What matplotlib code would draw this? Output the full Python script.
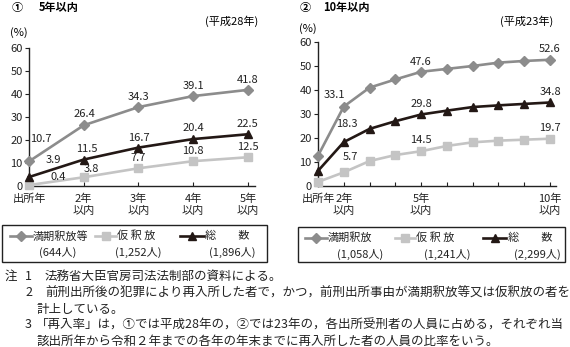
import matplotlib
matplotlib.use("Agg")
import matplotlib.pyplot as plt
from matplotlib.lines import Line2D
from matplotlib.patches import Rectangle

plt.rcParams['font.family'] = ['Noto Sans CJK JP', 'DejaVu Sans']

W, H = 570, 347

# ① 5年以内 (平成28年)
cats5 = ["出所年", "2年\n以内", "3年\n以内", "4年\n以内", "5年\n以内"]
manki5 = [10.7, 26.4, 34.3, 39.1, 41.8]
kari5 = [0.4, 3.8, 7.7, 10.8, 12.5]
total5 = [3.9, 11.5, 16.7, 20.4, 22.5]
names5 = ["満期釈放等", "仮 釈 放", "総　　数"]
counts5 = ["(644人)", "(1,252人)", "(1,896人)"]

# ② 10年以内 (平成23年)
cats10 = ["出所年", "2年\n以内", "", "", "5年\n以内", "", "", "", "", "10年\n以内"]
manki10 = [12.6, 33.1, 41.0, 44.4, 47.6, 48.8, 50.0, 51.4, 52.1, 52.6]
kari10 = [1.7, 5.7, 10.4, 12.9, 14.5, 16.7, 18.2, 18.9, 19.3, 19.7]
total10 = [6.3, 18.3, 23.8, 27.0, 29.8, 31.4, 32.9, 33.6, 34.2, 34.8]
labeled10 = [1, 4, 9]
names10 = ["満期釈放", "仮 釈 放", "総　　数"]
counts10 = ["(1,058人)", "(1,241人)", "(2,299人)"]

notes = [
    (5, 276, "注"),
    (25, 276, "1"),
    (45, 276, "法務省大臣官房司法法制部の資料による。"),
    (25, 293, "2"),
    (45, 293, "前刑出所後の犯罪により再入所した者で，かつ，前刑出所事由が満期釈放等又は仮釈放の者を"),
    (37, 309, "計上している。"),
    (25, 325, "3"),
    (36, 325, "「再入率」は，①では平成28年の，②では23年の，各出所受刑者の人員に占める，それぞれ当"),
    (37, 341, "該出所年から令和２年までの各年の年末までに再入所した者の人員の比率をいう。"),
]

colors = ["#8c8c8c", "#c4c4c4", "#231815"]
markers = ["D", "s", "^"]
msizes = [5, 5.5, 6]
FS = 8

# label offsets in pixels (dx, dy downwards)
offs5 = [
    [(12, -22), (1, -11), (0, -10), (0, -10), (0, -10)],
    [(29, -8), (8, -8), (0, -10), (0, -10), (0, -10)],
    [(24, -17), (3, -11), (0, -10), (0, -11), (0, -10)],
]
offs10 = [
    {1: (-9, -12), 4: (0, -10), 9: (0, -11)},
    {1: (7, -15), 4: (0, -11), 9: (0, -11)},
    {1: (3, -18), 4: (0, -10), 9: (0, -10)},
]


def fx(x):
    return x / W


def fy(y):
    return 1 - y / H


fig = plt.figure(figsize=(W / 100, H / 100), dpi=100)
fig.patch.set_facecolor("white")


def setup_axes(ax, cats, xmax):
    ax.set_xlim(0, xmax)
    ax.set_ylim(0, 60)
    for s in ["top", "right"]:
        ax.spines[s].set_visible(False)
    for s in ["left", "bottom"]:
        ax.spines[s].set_linewidth(1.0)
        ax.spines[s].set_color("#222222")
    ax.set_yticks(range(0, 61, 10))
    ax.set_xticks(range(len(cats)))
    ax.set_xticklabels(cats, fontsize=FS, linespacing=1.3)
    ax.tick_params(axis="y", direction="out", length=3, pad=1.5, labelsize=FS, colors="#222222")
    ax.tick_params(axis="x", direction="in", length=3, pad=5.5, colors="#222222")
    ax.patch.set_alpha(0)


def draw_series(ax, series, offs, labeled):
    for k, vals in enumerate(series):
        xs = list(range(len(vals)))
        ax.plot(xs, vals, color=colors[k], lw=1.9, marker=markers[k],
                ms=msizes[k], clip_on=False, zorder=3 + (k == 2))
        for i in labeled:
            dx, dy = offs[k][i]
            ax.annotate(f"{vals[i]:.1f}", (i, vals[i]), xytext=(dx, -dy),
                        textcoords="offset pixels", ha="center", va="center",
                        fontsize=FS, color="#222222")


def draw_legend(box, entries):
    x0, y0, x1, y1 = box
    fig.patches.append(Rectangle((fx(x0), fy(y1)), fx(x1 - x0), (y1 - y0) / H,
                                 transform=fig.transFigure, fill=False,
                                 edgecolor="#222222", lw=1.0))
    for k, (lx0, lx1, tx, name, cx, cnt) in enumerate(entries):
        fig.lines.append(Line2D([fx(lx0), fx(lx1)], [fy(y0 + 11)] * 2,
                                transform=fig.transFigure, color=colors[k], lw=1.9))
        fig.lines.append(Line2D([fx((lx0 + lx1) / 2)], [fy(y0 + 11)],
                                transform=fig.transFigure, color=colors[k],
                                marker=markers[k], ms=msizes[k]))
        fig.text(fx(tx), fy(y0 + 11), name, fontsize=FS, va="center", color="#222222")
        fig.text(fx(cx), fy(y0 + 27), cnt, fontsize=FS, va="center", ha="center",
                 color="#222222")


# ---- chart ① ----
ax1 = fig.add_axes([fx(29), fy(186), (255 - 29) / W, (186 - 48) / H])
setup_axes(ax1, cats5, 4.13)
draw_series(ax1, [manki5, kari5, total5], offs5, range(len(cats5)))
fig.text(fx(12), fy(7), "①", fontsize=FS, va="center", fontweight="bold")
fig.text(fx(39), fy(7), "5年以内", fontsize=FS, va="center", fontweight="bold")
fig.text(fx(258), fy(21), "(平成28年)", fontsize=FS, va="center", ha="right")
fig.text(fx(19), fy(33), "(%)", fontsize=FS, va="center", ha="center")
draw_legend((2, 225, 267, 262), [
    (10, 32, 33, names5[0], 58, counts5[0]),
    (95, 116, 117, names5[1], 138, counts5[1]),
    (180, 204, 205, names5[2], 232, counts5[2]),
])

# ---- chart ② ----
ax2 = fig.add_axes([fx(318), fy(186), (556 - 318) / W, (186 - 42) / H])
setup_axes(ax2, cats10, 9.23)
draw_series(ax2, [manki10, kari10, total10], offs10, labeled10)
fig.text(fx(300), fy(7), "②", fontsize=FS, va="center", fontweight="bold")
fig.text(fx(323), fy(7), "10年以内", fontsize=FS, va="center", fontweight="bold")
fig.text(fx(553), fy(21), "(平成23年)", fontsize=FS, va="center", ha="right")
fig.text(fx(308), fy(29), "(%)", fontsize=FS, va="center", ha="center")
draw_legend((298, 227, 565, 262), [
    (305, 327, 328, names10[0], 360, counts10[0]),
    (395, 415, 416, names10[1], 447, counts10[1]),
    (483, 506, 508, names10[2], 537, counts10[2]),
])

# ---- notes ----
for x, y, t in notes:
    fig.text(fx(x), fy(y), t, fontsize=9, va="center", color="#222222")

fig.savefig("out.png", dpi=100)
